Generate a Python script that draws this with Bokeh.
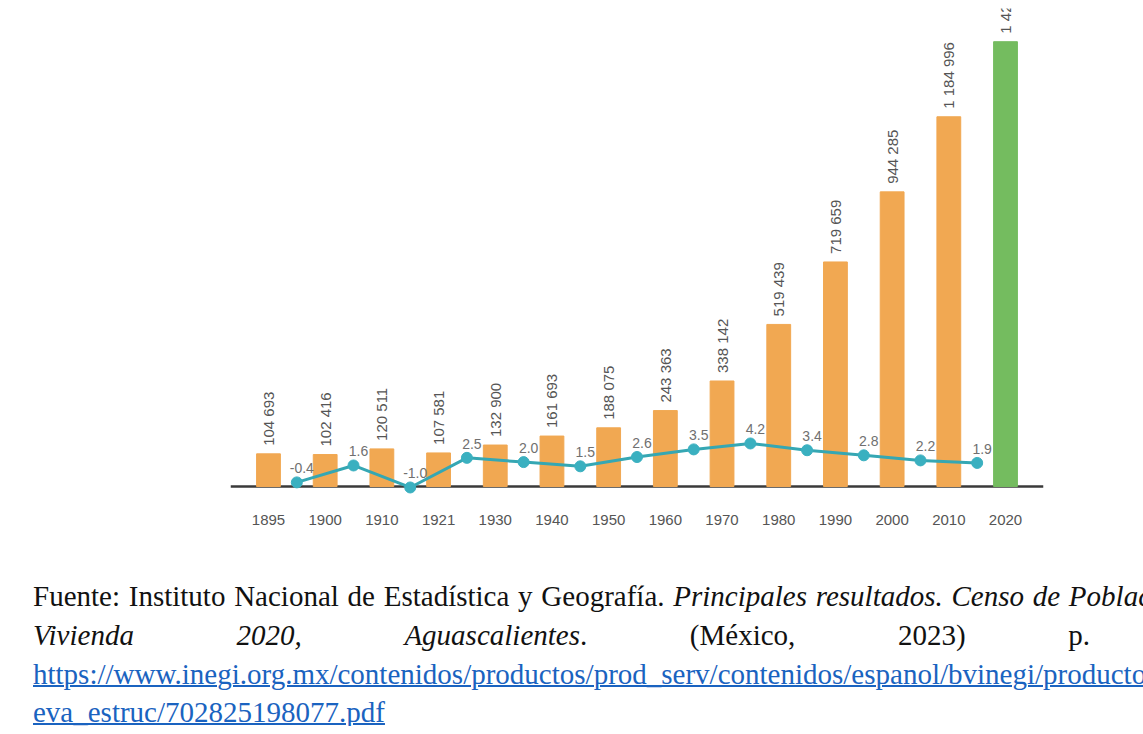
from math import pi
from bokeh.plotting import figure
from bokeh.models import ColumnDataSource, Range1d, FixedTicker, Span, Div
from bokeh.layouts import column
from bokeh.embed import file_html
from bokeh.resources import INLINE
from bokeh.core.properties import value

# ---------------- data ----------------
years = ["1895", "1900", "1910", "1921", "1930", "1940", "1950",
         "1960", "1970", "1980", "1990", "2000", "2010", "2020"]
population = [104693, 102416, 120511, 107581, 132900, 161693, 188075,
              243363, 338142, 519439, 719659, 944285, 1184996, 1425607]
growth = [-0.4, 1.6, -1.0, 2.5, 2.0, 1.5, 2.6, 3.5, 4.2, 3.4, 2.8, 2.2, 1.9]

ORANGE = "#f1a852"
GREEN = "#74bc5f"
TEAL_LINE = "#35a7b3"
TEAL_DOT = "#3ab0c0"

pos = list(range(len(years)))
mid = [i + 0.5 for i in range(len(growth))]
pop_labels = [f"{v:,}".replace(",", " ") for v in population]
rate_labels = [f"{g:.1f}" for g in growth]
bar_colors = [ORANGE] * (len(years) - 1) + [GREEN]

bars = ColumnDataSource(dict(x=pos, pop=population, lab=pop_labels, color=bar_colors))
rates = ColumnDataSource(dict(x=mid, g=growth, lab=rate_labels))

p = figure(width=1135, height=574,
           x_range=Range1d(-0.67, 13.67),
           y_range=Range1d(-60900, 1532000),
           output_backend="svg", toolbar_location=None,
           y_axis_location=None,
           min_border_left=230, min_border_right=92,
           min_border_top=8, min_border_bottom=69)
p.extra_y_ranges = {"rate": Range1d(-3.13, 55.6)}
p.outline_line_color = None
p.grid.visible = False

ax = p.xaxis[0]
ax.ticker = FixedTicker(ticks=pos)
ax.major_label_overrides = {i: y for i, y in zip(pos, years)}
ax.axis_line_color = None
ax.major_tick_line_color = None
ax.minor_tick_line_color = None
ax.major_tick_in = 0
ax.major_tick_out = 0
ax.major_label_standoff = 9
ax.major_label_text_font = "Liberation Sans"
ax.major_label_text_font_size = "15px"
ax.major_label_text_color = "#555555"

p.vbar(x="x", top="pop", bottom=0, width=0.42, color="color", source=bars)

base = Span(location=0, dimension="width", line_color="#3a3a3a", line_width=2.5)
base.level = "underlay"
p.add_layout(base)

p.text(x="x", y="pop", text="lab", source=bars, angle=pi / 2,
       text_align="left", text_baseline="middle", y_offset=-8,
       text_font=value("Liberation Sans"), text_font_size="15px",
       text_color="#555555")

p.line(x="x", y="g", source=rates, y_range_name="rate",
       line_color=TEAL_LINE, line_width=3)
p.scatter(x="x", y="g", source=rates, y_range_name="rate",
          size=11, fill_color=TEAL_DOT, line_color=TEAL_DOT)
p.text(x="x", y="g", text="lab", source=rates, y_range_name="rate",
       text_align="center", text_baseline="middle", x_offset=5, y_offset=-14,
       text_font=value("Liberation Sans"), text_font_size="14px",
       text_color="#707070")

# ---------------- source note ----------------
link = "color:#1a63c0;text-decoration:underline;text-decoration-thickness:2px;"
html = (
    '<div style="font-family:\'Liberation Serif\',\'Times New Roman\',serif;'
    'font-size:29px;line-height:38.8px;color:#111;padding-top:3px;'
    'padding-left:33px;white-space:nowrap;">'
    '<div style="word-spacing:1.5px;">Fuente: Instituto Nacional de Estadística y Geografía. '
    '<i>Principales resultados. Censo de Población y</i></div>'
    '<div style="display:flex;justify-content:space-between;width:1057px;">'
    '<i>Vivienda</i><i>2020,</i><span><i>Aguascalientes</i>.</span>'
    '<span>(México,</span><span>2023)</span><span>p.</span></div>'
    f'<div><span style="{link}">https://www.inegi.org.mx/contenidos/productos/'
    'prod_serv/contenidos/espanol/bvinegi/productos/nu</span></div>'
    f'<div><span style="{link}">eva_estruc/702825198077.pdf</span></div>'
    '</div>'
)
note = Div(text=html, width=1143, height=152, margin=(0, 0, 0, 0),
           styles={"overflow": "hidden"})

layout = column(p, note, spacing=0)

open("out.html", "w").write(file_html(layout, INLINE))
